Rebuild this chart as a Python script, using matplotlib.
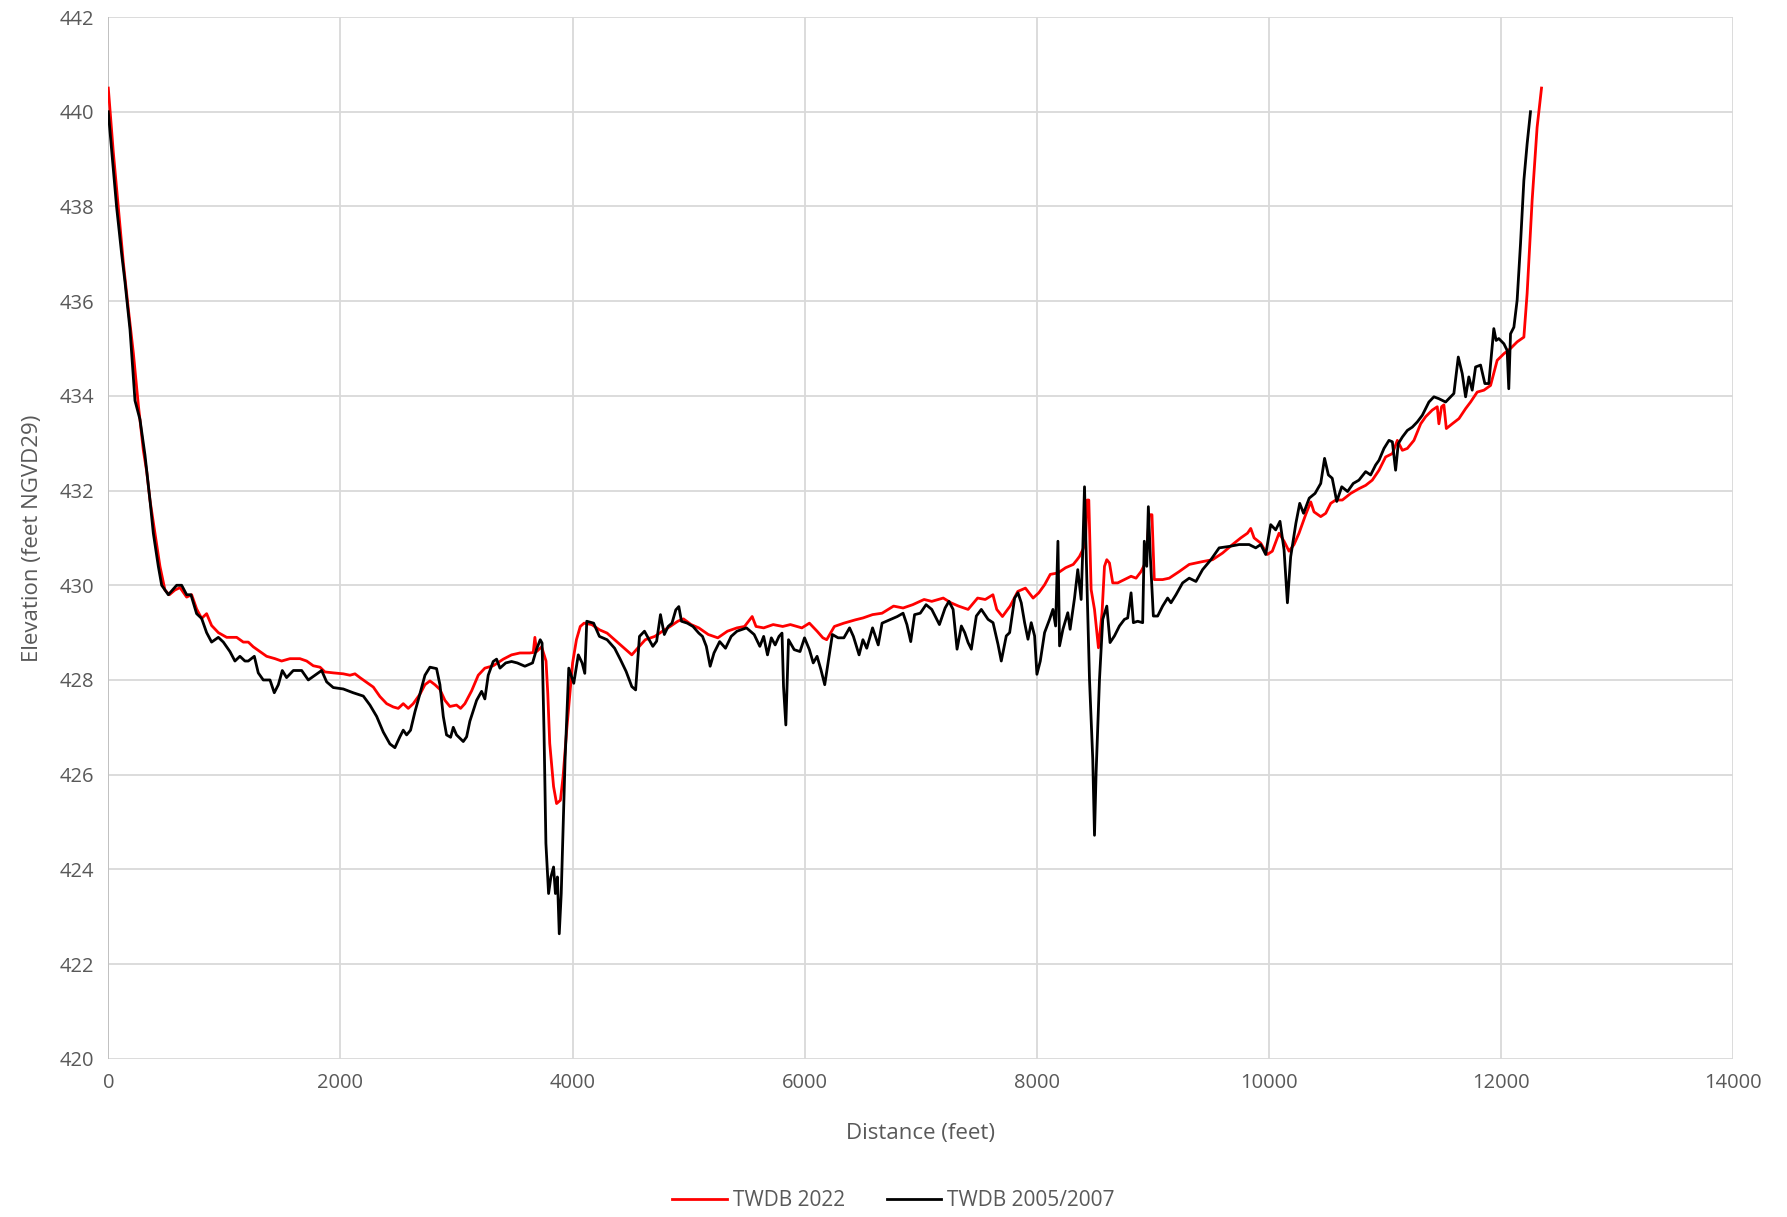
import numpy as np
import matplotlib
matplotlib.use("Agg")
import matplotlib.pyplot as plt

# TWDB 2022 survey profile (distance ft, elevation ft NGVD29)
dist_2022 = [0, 43, 86, 130, 172, 216, 259, 302, 331, 359, 402, 445, 488, 526, 574, 618, 675, 718,
             761, 804, 847, 890, 948, 1020, 1106, 1163, 1206, 1249, 1307, 1364, 1436, 1493, 1565,
             1651, 1709, 1766, 1824, 1866, 1938, 2024, 2082, 2125, 2168, 2225, 2283, 2340, 2398,
             2455, 2498, 2541, 2584, 2627, 2685, 2728, 2771, 2814, 2857, 2900, 2943, 3000, 3035,
             3072, 3130, 3187, 3244, 3316, 3403, 3474, 3546, 3632, 3661, 3675, 3690, 3733, 3771,
             3786, 3803, 3836, 3862, 3895, 3918, 3951, 4000, 4033, 4066, 4099, 4165, 4231, 4297,
             4362, 4428, 4510, 4560, 4626, 4708, 4774, 4840, 4906, 4955, 5021, 5087, 5169, 5251,
             5334, 5416, 5481, 5547, 5580, 5646, 5728, 5810, 5876, 5975, 6040, 6106, 6156, 6189,
             6255, 6337, 6436, 6502, 6584, 6666, 6765, 6847, 6930, 7028, 7094, 7193, 7259, 7325,
             7407, 7489, 7555, 7621, 7654, 7703, 7769, 7835, 7901, 7967, 8016, 8066, 8115, 8181,
             8247, 8313, 8346, 8367, 8395, 8418, 8433, 8447, 8467, 8496, 8530, 8561, 8582, 8602,
             8625, 8653, 8696, 8754, 8811, 8854, 8897, 8940, 8968, 8991, 9011, 9083, 9140, 9226,
             9312, 9427, 9513, 9599, 9685, 9756, 9814, 9842, 9871, 9928, 9985, 10028, 10086, 10129,
             10172, 10215, 10258, 10315, 10359, 10387, 10445, 10488, 10531, 10574, 10631, 10703,
             10774, 10832, 10889, 10947, 11004, 11062, 11105, 11148, 11191, 11248, 11306, 11349,
             11406, 11449, 11463, 11486, 11506, 11527, 11578, 11636, 11693, 11736, 11793, 11851,
             11908, 11965, 12023, 12080, 12137, 12195, 12223, 12266, 12309, 12347]
elev_2022 = [440.5, 439.15, 438.0, 436.8, 435.85, 434.9, 433.8, 432.85, 432.4, 431.8, 431.1, 430.4,
             429.9, 429.8, 429.9, 429.95, 429.75, 429.8, 429.5, 429.3, 429.4, 429.15, 429.0, 428.9,
             428.9, 428.8, 428.8, 428.7, 428.6, 428.5, 428.45, 428.4, 428.45, 428.45, 428.4, 428.3,
             428.27, 428.17, 428.15, 428.13, 428.1, 428.13, 428.05, 427.95, 427.85, 427.65, 427.5,
             427.43, 427.4, 427.5, 427.4, 427.5, 427.7, 427.9, 427.98, 427.9, 427.8, 427.57, 427.44,
             427.47, 427.4, 427.5, 427.77, 428.1, 428.25, 428.3, 428.44, 428.53, 428.57, 428.57,
             428.58, 428.9, 428.6, 428.7, 428.4, 427.72, 426.66, 425.75, 425.39, 425.46, 425.96,
             427.0, 428.36, 428.85, 429.13, 429.2, 429.17, 429.06, 428.99, 428.85, 428.71, 428.53,
             428.67, 428.85, 428.92, 429.03, 429.13, 429.24, 429.29, 429.17, 429.1, 428.96, 428.89,
             429.03, 429.1, 429.13, 429.34, 429.13, 429.1, 429.17, 429.13, 429.17, 429.1, 429.2,
             429.03, 428.89, 428.85, 429.13, 429.2, 429.27, 429.31, 429.38, 429.41, 429.56, 429.52,
             429.59, 429.7, 429.66, 429.73, 429.63, 429.56, 429.49, 429.73, 429.7, 429.8, 429.49,
             429.34, 429.56, 429.87, 429.94, 429.73, 429.84, 430.01, 430.23, 430.26, 430.37, 430.44,
             430.54, 430.61, 430.75, 430.89, 431.8, 431.8, 429.91, 429.49, 428.68, 429.42, 430.4,
             430.54, 430.47, 430.05, 430.05, 430.12, 430.19, 430.15, 430.29, 430.5, 431.49, 431.49,
             430.12, 430.12, 430.15, 430.29, 430.44, 430.5, 430.54, 430.68, 430.86, 431.0, 431.1,
             431.2, 431.0, 430.89, 430.65, 430.72, 431.1, 430.93, 430.72, 430.86, 431.1, 431.49,
             431.76, 431.55, 431.45, 431.52, 431.73, 431.8, 431.8, 431.94, 432.04, 432.11, 432.22,
             432.43, 432.71, 432.78, 433.06, 432.85, 432.89, 433.06, 433.41, 433.56, 433.7, 433.77,
             433.41, 433.77, 433.81, 433.31, 433.41, 433.52, 433.73, 433.87, 434.08, 434.12, 434.22,
             434.75, 434.89, 435.0, 435.14, 435.24, 436.16, 438.12, 439.67, 440.5]

# TWDB 2005/2007 survey profile
dist_0507 = [0, 72, 115, 144, 187, 230, 273, 316, 359, 388, 431, 460, 517, 589, 632, 675, 712, 761,
             804, 847, 890, 948, 991, 1048, 1091, 1134, 1177, 1206, 1258, 1292, 1335, 1393, 1430,
             1465, 1499, 1536, 1594, 1666, 1723, 1780, 1838, 1881, 1938, 2024, 2110, 2197, 2254,
             2312, 2369, 2426, 2469, 2512, 2541, 2570, 2604, 2642, 2685, 2728, 2771, 2828, 2857,
             2886, 2914, 2949, 2972, 3000, 3058, 3087, 3115, 3173, 3216, 3244, 3273, 3316, 3345,
             3374, 3424, 3474, 3523, 3589, 3655, 3688, 3721, 3737, 3754, 3770, 3793, 3813, 3836,
             3852, 3869, 3885, 3902, 3935, 3967, 4010, 4049, 4082, 4105, 4122, 4181, 4231, 4297,
             4362, 4412, 4461, 4510, 4543, 4576, 4619, 4659, 4691, 4724, 4757, 4790, 4823, 4856,
             4889, 4915, 4938, 4988, 5037, 5087, 5119, 5152, 5185, 5218, 5267, 5317, 5366, 5416,
             5498, 5564, 5613, 5646, 5679, 5712, 5745, 5778, 5804, 5817, 5837, 5860, 5909, 5959,
             5998, 6040, 6073, 6106, 6139, 6172, 6205, 6238, 6287, 6337, 6386, 6419, 6468, 6501,
             6534, 6584, 6633, 6666, 6732, 6797, 6847, 6880, 6913, 6946, 6995, 7045, 7094, 7160,
             7209, 7242, 7278, 7312, 7349, 7378, 7407, 7435, 7478, 7521, 7579, 7622, 7665, 7693,
             7736, 7765, 7808, 7837, 7865, 7894, 7923, 7951, 7980, 8000, 8029, 8066, 8109, 8138,
             8161, 8181, 8195, 8224, 8266, 8286, 8324, 8352, 8381, 8395, 8410, 8430, 8453, 8481,
             8496, 8510, 8539, 8567, 8602, 8630, 8668, 8711, 8754, 8782, 8811, 8831, 8868, 8911,
             8925, 8946, 8960, 8977, 9003, 9040, 9083, 9126, 9155, 9198, 9255, 9312, 9370, 9427,
             9499, 9570, 9656, 9742, 9828, 9885, 9928, 9971, 10014, 10057, 10094, 10129, 10158,
             10186, 10231, 10264, 10297, 10346, 10396, 10445, 10478, 10511, 10544, 10583, 10626,
             10676, 10725, 10774, 10832, 10875, 10918, 10947, 10990, 11033, 11062, 11090, 11113,
             11148, 11191, 11234, 11277, 11320, 11377, 11420, 11463, 11521, 11564, 11592, 11630,
             11664, 11693, 11721, 11750, 11779, 11822, 11859, 11893, 11916, 11936, 11956, 11979,
             12023, 12051, 12065, 12080, 12109, 12137, 12166, 12195, 12223, 12252]
elev_0507 = [440.0, 437.98, 437.0, 436.4, 435.4, 433.9, 433.5, 432.75, 431.8, 431.1, 430.4, 430.0,
             429.8, 430.0, 430.0, 429.8, 429.8, 429.4, 429.3, 429.0, 428.8, 428.9, 428.8, 428.6,
             428.4, 428.5, 428.4, 428.4, 428.5, 428.15, 428.0, 428.0, 427.73, 427.9, 428.2, 428.05,
             428.2, 428.2, 428.0, 428.1, 428.2, 427.96, 427.84, 427.81, 427.73, 427.66, 427.47,
             427.23, 426.9, 426.65, 426.57, 426.8, 426.94, 426.84, 426.94, 427.33, 427.71, 428.1,
             428.27, 428.24, 427.9, 427.23, 426.84, 426.79, 427.0, 426.84, 426.7, 426.8, 427.13,
             427.57, 427.76, 427.6, 428.1, 428.39, 428.44, 428.25, 428.36, 428.39, 428.36, 428.29,
             428.36, 428.64, 428.85, 428.78, 426.87, 424.55, 423.49, 423.84, 424.05, 423.49, 423.84,
             422.64, 423.49, 426.31, 428.25, 427.93, 428.53, 428.36, 428.14, 429.24, 429.2, 428.92,
             428.85, 428.67, 428.43, 428.18, 427.86, 427.79, 428.92, 429.03, 428.85, 428.71, 428.82,
             429.38, 428.96, 429.13, 429.2, 429.48, 429.55, 429.24, 429.2, 429.13, 428.99, 428.92,
             428.71, 428.29, 428.57, 428.81, 428.67, 428.92, 429.03, 429.1, 428.96, 428.71, 428.92,
             428.53, 428.89, 428.74, 428.92, 428.99, 427.86, 427.05, 428.85, 428.64, 428.6, 428.89,
             428.64, 428.36, 428.5, 428.22, 427.9, 428.43, 428.96, 428.89, 428.89, 429.1, 428.92,
             428.53, 428.85, 428.67, 429.1, 428.74, 429.2, 429.27, 429.34, 429.41, 429.17, 428.81,
             429.38, 429.41, 429.59, 429.49, 429.17, 429.52, 429.66, 429.49, 428.65, 429.14, 429.0,
             428.79, 428.65, 429.35, 429.49, 429.28, 429.21, 428.75, 428.4, 428.93, 429.0, 429.73,
             429.84, 429.63, 429.21, 428.86, 429.21, 428.93, 428.12, 428.4, 429.0, 429.28, 429.49,
             429.14, 430.93, 428.72, 429.07, 429.42, 429.07, 429.73, 430.33, 429.7, 430.75, 432.08,
             430.12, 428.01, 426.33, 424.72, 426.05, 428.01, 429.28, 429.56, 428.79, 428.93, 429.14,
             429.28, 429.31, 429.84, 429.21, 429.24, 429.21, 430.93, 430.4, 431.66, 430.61, 429.35,
             429.35, 429.56, 429.73, 429.63, 429.8, 430.05, 430.15, 430.08, 430.33, 430.54, 430.79,
             430.82, 430.86, 430.86, 430.79, 430.86, 430.65, 431.28, 431.17, 431.35, 430.75, 429.63,
             430.6, 431.31, 431.73, 431.52, 431.84, 431.94, 432.15, 432.68, 432.33, 432.26, 431.77,
             432.08, 431.98, 432.15, 432.22, 432.4, 432.33, 432.54, 432.64, 432.89, 433.06, 433.03,
             432.43, 432.99, 433.13, 433.27, 433.34, 433.45, 433.59, 433.87, 433.98, 433.94, 433.87,
             433.98, 434.05, 434.82, 434.47, 433.98, 434.4, 434.12, 434.61, 434.65, 434.26, 434.26,
             434.89, 435.42, 435.17, 435.21, 435.1, 434.96, 434.15, 435.31, 435.45, 436.02, 437.21,
             438.55, 439.32, 440.0]

x_ticks = np.arange(0, 14001, 2000)
y_ticks = np.arange(420, 443, 2)

plt.rcParams['font.family'] = ['Open Sans', 'DejaVu Sans']
grey = '#595959'

fig = plt.figure(figsize=(17.87, 12.17), dpi=100)
ax = fig.add_axes([0.0606, 0.130, 0.9094, 0.856])

ax.plot(dist_2022, elev_2022, color='#ff0000', linewidth=2.0, label='TWDB 2022', zorder=3)
ax.plot(dist_0507, elev_0507, color='#000000', linewidth=2.0, label='TWDB 2005/2007', zorder=4)

ax.set_xlim(0, 14000)
ax.set_ylim(420, 442)
ax.set_xticks(x_ticks)
ax.set_yticks(y_ticks)
ax.grid(True, color='#d9d9d9', linewidth=1.3)
ax.set_axisbelow(True)
for s in ax.spines.values():
    s.set_visible(False)
ax.axvline(0, color='#bfbfbf', linewidth=1.3, zorder=1)
ax.tick_params(length=0, labelsize=14.5, labelcolor=grey, pad=10)

ax.set_xlabel('Distance (feet)', fontsize=16, color=grey, labelpad=22)
ax.set_ylabel('Elevation (feet NGVD29)', fontsize=16, color=grey, labelpad=12)

leg = fig.legend(loc='center', bbox_to_anchor=(0.5, 0.0135), ncol=2, frameon=False,
                 fontsize=15, handlelength=2.6, columnspacing=2.0, handletextpad=0.3)
for t in leg.get_texts():
    t.set_color(grey)

fig.savefig('out.png', dpi=100)
